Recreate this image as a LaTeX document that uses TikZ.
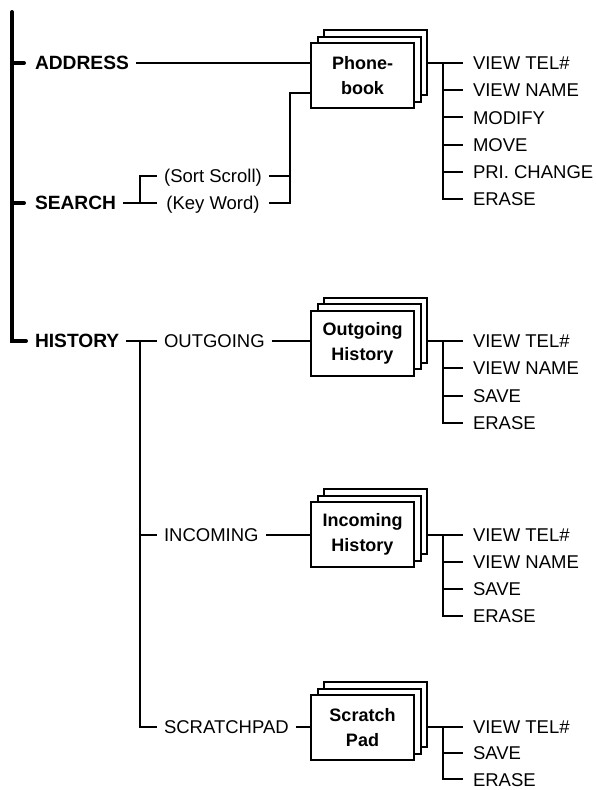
\documentclass[tikz,border=0pt]{standalone}
\usepackage{fontspec}
\setmainfont{Liberation Sans}
\usetikzlibrary{shadows}

\begin{document}
\begin{tikzpicture}[
    x=1pt, y=-1pt,
    line width=2pt,
    font=\fontsize{18.5}{20}\selectfont,
    lbl/.style={anchor=west, inner xsep=6pt, inner ysep=0pt, text height=13.3pt, text depth=0pt},
    head/.style={lbl, font=\fontsize{19.2}{20}\selectfont\bfseries},
    itm/.style={lbl, inner xsep=0pt},
    bar/.style={line width=4pt, line cap=round},
    sheets/.style={draw, fill=white, minimum width=103pt, minimum height=65pt, align=center,
        font=\fontsize{18}{25}\selectfont\bfseries,
        copy shadow={shadow xshift=13pt, shadow yshift=13pt},
        copy shadow={shadow xshift=6.5pt, shadow yshift=6.5pt}}
]
    \useasboundingbox (0,0) rectangle (595,790);

    % main menu
    \node[head] (address) at (28,63) {ADDRESS};
    \node[head] (search) at (28,203) {SEARCH};
    \node[head] (history) at (28,341) {HISTORY};
    \coordinate (top) at (12,12);
    \draw[bar] (top) |- ([xshift=-2pt]history.west);
    \draw[bar] (top |- address.west) -- ([xshift=-4pt]address.west);
    \draw[bar] (top |- search.west) -- ([xshift=-4pt]search.west);

    % phonebook
    \node[sheets] (phone) at (362.5,75.5) {Phone-\\book};
    \node[lbl, anchor=center] (sortscroll) at (213,176) {(Sort Scroll)};
    \node[lbl, anchor=center] (keyword) at (213,203) {(Key Word)};
    \coordinate (sj) at (140,0);
    \coordinate (pj) at (290,0);
    \coordinate (pin) at ([yshift=-17.5pt]phone.west);
    \draw (address.east) -- (address.east -| phone.west);
    \draw (search.east) -- (search.east -| sortscroll.west);
    \draw (sortscroll.west) -| (sj |- search.east);
    \draw (sortscroll.east) -- (sortscroll.east -| pj);
    \draw (keyword.east -| sortscroll.east) -| (pj |- pin) -- (pin);

    % history
    \node[lbl] (outgoing) at (157,341) {OUTGOING};
    \node[lbl] (incoming) at (157,535) {INCOMING};
    \node[lbl] (scratchpad) at (157,727) {SCRATCHPAD};
    \node[sheets] (outbox) at (362.5,343) {Outgoing\\History};
    \node[sheets] (inbox) at (362.5,534.5) {Incoming\\History};
    \node[sheets] (padbox) at (362.5,727.5) {Scratch\\Pad};
    \coordinate (hj) at (140,0);
    \draw (history.east) -- (outgoing.west);
    \draw (hj |- history.east) |- (scratchpad.west);
    \draw (hj |- incoming.west) -- (incoming.west);
    \draw (outgoing.east) -- (outgoing.east -| outbox.west);
    \draw (incoming.east) -- (incoming.east -| inbox.west);
    \draw (scratchpad.east) -- (scratchpad.east -| padbox.west);

    % sub-menus
    \coordinate (ij) at (443,0);
    \foreach \t [count=\i] in {VIEW TEL\#, VIEW NAME, MODIFY, MOVE, PRI. CHANGE, ERASE}
        \node[itm] (p\i) at (472,35.8+27.2*\i) {\t};
    \foreach \t [count=\i] in {VIEW TEL\#, VIEW NAME, SAVE, ERASE}
        \node[itm] (o\i) at (472,313.7+27.3*\i) {\t};
    \foreach \t [count=\i] in {VIEW TEL\#, VIEW NAME, SAVE, ERASE}
        \node[itm] (n\i) at (472,508+27*\i) {\t};
    \foreach \t [count=\i] in {VIEW TEL\#, SAVE, ERASE}
        \node[itm] (s\i) at (472,700.5+26.3*\i) {\t};

    \draw ([xshift=13pt]phone.east |- p1.west) -- ([xshift=-9pt]p1.west);
    \draw (ij |- p1.west) |- ([xshift=-9pt]p6.west);
    \foreach \i in {2,...,5}
        \draw (ij |- p\i.west) -- ([xshift=-9pt]p\i.west);

    \draw ([xshift=13pt]outbox.east |- o1.west) -- ([xshift=-9pt]o1.west);
    \draw (ij |- o1.west) |- ([xshift=-9pt]o4.west);
    \foreach \i in {2,3}
        \draw (ij |- o\i.west) -- ([xshift=-9pt]o\i.west);

    \draw ([xshift=13pt]inbox.east |- n1.west) -- ([xshift=-9pt]n1.west);
    \draw (ij |- n1.west) |- ([xshift=-9pt]n4.west);
    \foreach \i in {2,3}
        \draw (ij |- n\i.west) -- ([xshift=-9pt]n\i.west);

    \draw ([xshift=13pt]padbox.east |- s1.west) -- ([xshift=-9pt]s1.west);
    \draw (ij |- s1.west) |- ([xshift=-9pt]s3.west);
    \draw (ij |- s2.west) -- ([xshift=-9pt]s2.west);
\end{tikzpicture}
\end{document}
